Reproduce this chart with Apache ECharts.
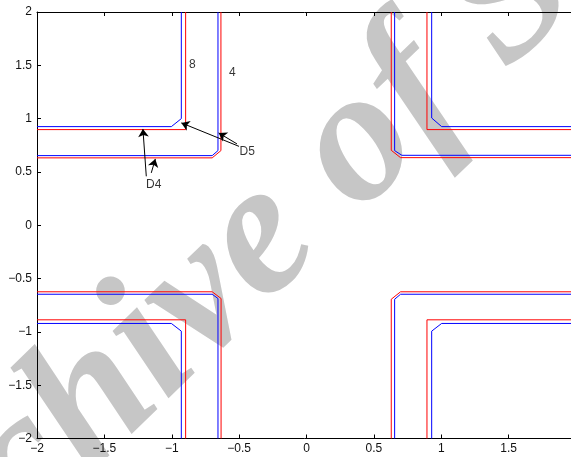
<!DOCTYPE html>
<html><head><meta charset="utf-8">
<script src="https://cdn.jsdelivr.net/npm/echarts@6/dist/echarts.min.js"></script>
<style>html,body{margin:0;padding:0;background:#fff}#c{width:571px;height:457px}</style>
</head><body><div id="c"></div>
<script>
// axis ticks
const xTicks = [-2, -1.5, -1, -0.5, 0, 0.5, 1, 1.5, 2];
const yTicks = [-2, -1.5, -1, -0.5, 0, 0.5, 1, 1.5, 2];

// red paths (corner contours)
const redOuterTL = [[-0.635, 2], [-0.635, 0.70], [-0.70, 0.632], [-2, 0.632]];
const redInnerTL = [[-0.897, 2], [-0.897, 0.897], [-2, 0.897]];
const redOuterTR = [[0.629, 2], [0.629, 0.703], [0.698, 0.634], [2, 0.634]];
const redInnerTR = [[0.894, 2], [0.894, 0.897], [2, 0.897]];
const redOuterBL = [[-2, -0.624], [-0.70, -0.624], [-0.634, -0.687], [-0.634, -2]];
const redInnerBL = [[-2, -0.887], [-0.897, -0.887], [-0.897, -2]];
const redOuterBR = [[0.629, -2], [0.629, -0.694], [0.698, -0.624], [2, -0.624]];
const redInnerBR = [[0.894, -2], [0.894, -0.887], [2, -0.887]];

// blue paths
const blueOuterTL = [[-0.657, 2], [-0.657, 0.70], [-0.70, 0.653], [-2, 0.653]];
const blueInnerTL = [[-0.929, 2], [-0.929, 1.0], [-1.003, 0.925], [-2, 0.925]];
const blueOuterTR = [[0.654, 2], [0.654, 0.70], [0.708, 0.656], [2, 0.656]];
const blueInnerTR = [[0.929, 2], [0.929, 1.006], [1.003, 0.925], [2, 0.925]];
const blueOuterBL = [[-2, -0.647], [-0.70, -0.647], [-0.657, -0.687], [-0.657, -2]];
const blueInnerBL = [[-2, -0.921], [-1.003, -0.921], [-0.929, -0.993], [-0.929, -2]];
const blueOuterBR = [[0.654, -2], [0.654, -0.694], [0.698, -0.647], [2, -0.647]];
const blueInnerBR = [[0.929, -2], [0.929, -0.993], [1.003, -0.921], [2, -0.921]];

// annotations: labels and arrows [start, tip]
const annoLabels = [
  {name: '8', value: [-0.847, 1.503]},
  {name: '4', value: [-0.550, 1.431]},
  {name: 'D5', value: [-0.440, 0.694]},
  {name: 'D4', value: [-1.134, 0.381]}
];
const annoArrows = [
  [[-0.501, 0.740], [-0.929, 0.960]],
  [[-0.516, 0.763], [-0.652, 0.866]],
  [[-1.189, 0.459], [-1.214, 0.903]],
  [[-1.152, 0.491], [-1.122, 0.622]]
];

const watermark = 'Archive of SID';

const redPaths = [redOuterTL, redInnerTL, redOuterTR, redInnerTR, redOuterBL, redInnerBL, redOuterBR, redInnerBR];
const bluePaths = [blueOuterTL, blueInnerTL, blueOuterTR, blueInnerTR, blueOuterBL, blueInnerBL, blueOuterBR, blueInnerBR];

const fmt = v => (v < 0 ? '\u2212' + String(-v) : String(v));

function lineSeries(path, color) {
  return {
    type: 'line', data: path, showSymbol: false, symbol: 'none',
    lineStyle: {color: color, width: 1}, z: 3, silent: true, clip: true
  };
}

const series = [];
bluePaths.forEach(p => series.push(lineSeries(p, '#0000ff')));
redPaths.forEach(p => series.push(lineSeries(p, '#ff0000')));
series.push({
  type: 'scatter', data: annoLabels, symbolSize: 1, silent: true, z: 5,
  itemStyle: {color: 'rgba(0,0,0,0)'},
  label: {show: true, position: 'inside', formatter: '{b}', color: '#000',
          fontFamily: 'Liberation Sans', fontSize: 12},
  markLine: {
    silent: true, symbol: ['none', 'arrow'], symbolSize: 8,
    label: {show: false},
    lineStyle: {color: '#000', width: 1, type: 'solid'},
    data: annoArrows.map(a => [{coord: a[0]}, {coord: a[1]}])
  }
});

const axisCommon = {
  type: 'value', min: -2, max: 2, interval: 0.5,
  splitLine: {show: false},
  axisLine: {show: true, onZero: false, lineStyle: {color: '#000', width: 1}},
  axisTick: {show: true, inside: true, length: 4, lineStyle: {color: '#000'}},
};

const chart = echarts.init(document.getElementById('c'), null, {renderer: 'canvas'});
chart.setOption({
  animation: false,
  backgroundColor: '#fff',
  grid: {left: 37, top: 12, width: 539, height: 426.5, containLabel: false, outerBoundsMode: 'none'},
  xAxis: [
    Object.assign({}, axisCommon, {position: 'bottom',
      axisLabel: {show: true, margin: 4, color: '#111', fontFamily: 'Liberation Sans', fontSize: 12,
        formatter: v => fmt(v), showMinLabel: true, showMaxLabel: true}}),
    Object.assign({}, axisCommon, {position: 'top', axisLabel: {show: false}})
  ],
  yAxis: [
    Object.assign({}, axisCommon, {position: 'left',
      axisLabel: {show: true, margin: 5, color: '#111', fontFamily: 'Liberation Sans', fontSize: 12,
        formatter: v => fmt(v), showMinLabel: true, showMaxLabel: true}})
  ],
  graphic: [{
    type: 'text', x: 275, y: 227, rotation: 44 * Math.PI / 180, z: -1, silent: true,
    style: {text: watermark, font: 'italic bold 190px "Liberation Serif"', fill: '#c6c6c6',
            align: 'center', verticalAlign: 'middle'}
  }],
  series: series
});
</script></body></html>
